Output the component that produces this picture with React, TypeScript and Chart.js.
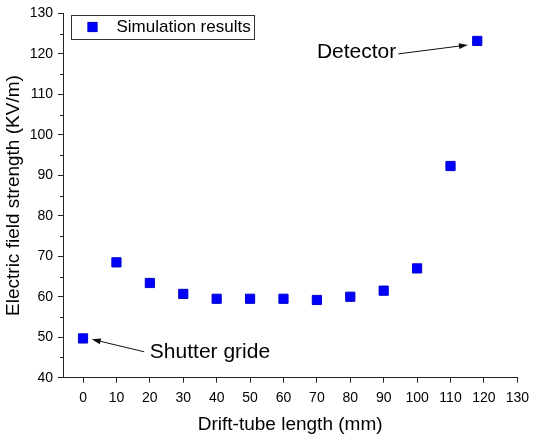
import React, { useEffect, useRef } from 'react';
import { Chart, registerables } from 'chart.js';

Chart.register(...registerables);

const xValues = [0, 10, 20, 30, 40, 50, 60, 70, 80, 90, 100, 110, 118];
const yValues = [49.7, 68.5, 63.4, 60.7, 59.5, 59.5, 59.5, 59.2, 60.0, 61.5, 67.0, 92.3, 123.2];
const xTicks = [0, 10, 20, 30, 40, 50, 60, 70, 80, 90, 100, 110, 120, 130];
const yMajorTicks = [40, 50, 60, 70, 80, 90, 100, 110, 120, 130];
const yMinorTicks = [45, 55, 65, 75, 85, 95, 105, 115, 125];
const seriesLabel = 'Simulation results';
const xTitle = 'Drift-tube length (mm)';
const yTitle = 'Electric field strength (KV/m)';

const annotationTexts = ['Detector', 'Shutter gride'];
const annotationTextAt = [[70, 120.3], [20, 46.2]];
const annotationArrowFrom = [[94.4, 120.0], [18.3, 46.4]];
const annotationArrowTo = [[115.2, 122.2], [2.6, 49.5]];

const FONT = '"Liberation Sans", Arial, sans-serif';
const AXIS_COLOR = '#222';
const POINT_FILL = '#0000ff';
const POINT_BORDER = '#0000cc';

const extrasPlugin = {
  id: 'extras',
  afterDraw(chart: any) {
    const ctx = chart.ctx;
    const xs = chart.scales.x;
    const ys = chart.scales.y;
    const area = chart.chartArea;
    ctx.save();

    // minor ticks on y axis
    ctx.strokeStyle = AXIS_COLOR;
    ctx.lineWidth = 1;
    yMinorTicks.forEach((v) => {
      const py = Math.round(ys.getPixelForValue(v)) + 0.5;
      ctx.beginPath();
      ctx.moveTo(area.left, py);
      ctx.lineTo(area.left - 3, py);
      ctx.stroke();
    });

    // annotations
    ctx.fillStyle = '#000';
    ctx.strokeStyle = '#111';
    ctx.font = `21px ${FONT}`;
    ctx.textBaseline = 'middle';
    ctx.textAlign = 'left';
    annotationTexts.forEach((t, i) => {
      const tx = xs.getPixelForValue(annotationTextAt[i][0]);
      const ty = ys.getPixelForValue(annotationTextAt[i][1]);
      ctx.fillText(t, tx, ty);
      const fx = xs.getPixelForValue(annotationArrowFrom[i][0]);
      const fy = ys.getPixelForValue(annotationArrowFrom[i][1]);
      const ex = xs.getPixelForValue(annotationArrowTo[i][0]);
      const ey = ys.getPixelForValue(annotationArrowTo[i][1]);
      const ang = Math.atan2(ey - fy, ex - fx);
      const hl = 9;
      const hw = 3;
      ctx.lineWidth = 1;
      ctx.beginPath();
      ctx.moveTo(fx, fy);
      ctx.lineTo(ex - Math.cos(ang) * hl * 0.8, ey - Math.sin(ang) * hl * 0.8);
      ctx.stroke();
      ctx.beginPath();
      ctx.moveTo(ex, ey);
      ctx.lineTo(ex - Math.cos(ang) * hl - Math.sin(ang) * hw, ey - Math.sin(ang) * hl + Math.cos(ang) * hw);
      ctx.lineTo(ex - Math.cos(ang) * hl + Math.sin(ang) * hw, ey - Math.sin(ang) * hl - Math.cos(ang) * hw);
      ctx.closePath();
      ctx.fillStyle = '#111';
      ctx.fill();
      ctx.fillStyle = '#000';
    });

    // legend box
    const lx = area.left + 8.5;
    const ly = 15.5;
    const lw = 183;
    const lh = 24;
    ctx.fillStyle = '#fff';
    ctx.fillRect(lx, ly, lw, lh);
    ctx.strokeStyle = '#333';
    ctx.lineWidth = 1;
    ctx.strokeRect(lx, ly, lw, lh);
    const mx = lx + 21;
    const my = ly + 11.5;
    const half = 4.6;
    ctx.fillStyle = POINT_FILL;
    ctx.fillRect(mx - half, my - half, half * 2, half * 2);
    ctx.strokeStyle = POINT_BORDER;
    ctx.strokeRect(mx - half, my - half, half * 2, half * 2);
    ctx.fillStyle = '#000';
    ctx.font = `17px ${FONT}`;
    ctx.textBaseline = 'middle';
    ctx.fillText(chart.data.datasets[0].label, lx + 45, my + 0.5);

    ctx.restore();
  },
};

export default function App() {
  const ref = useRef<HTMLCanvasElement>(null);

  useEffect(() => {
    if (!ref.current) return;
    const chart = new Chart(ref.current, {
      type: 'scatter',
      data: {
        datasets: [
          {
            label: seriesLabel,
            data: xValues.map((x, i) => ({ x, y: yValues[i] })),
            pointStyle: 'rect',
            pointRadius: 6.5,
            pointHoverRadius: 6.5,
            backgroundColor: POINT_FILL,
            borderColor: POINT_BORDER,
            borderWidth: 1,
            showLine: false,
          },
        ],
      },
      options: {
        responsive: false,
        animation: false,
        devicePixelRatio: 1,
        layout: { padding: { left: 0, top: 12, right: 16.5, bottom: 0 } },
        plugins: {
          legend: { display: false },
          tooltip: { enabled: false },
        },
        scales: {
          x: {
            type: 'linear',
            min: -6,
            max: 130,
            afterBuildTicks: (s: any) => {
              s.ticks = xTicks.map((v) => ({ value: v }));
            },
            afterFit: (s: any) => {
              s.height = 60.3;
            },
            ticks: {
              color: '#000',
              font: { family: FONT, size: 14 },
              padding: 7,
              maxRotation: 0,
              autoSkip: false,
            },
            grid: {
              drawOnChartArea: false,
              drawTicks: true,
              tickLength: 5,
              color: AXIS_COLOR,
              lineWidth: 1,
            },
            border: { display: true, color: AXIS_COLOR, width: 1 },
            title: {
              display: true,
              text: xTitle,
              color: '#000',
              font: { family: FONT, size: 19 },
              padding: { top: 0, bottom: 1.6 },
            },
          },
          y: {
            type: 'linear',
            min: 40,
            max: 130,
            afterBuildTicks: (s: any) => {
              s.ticks = yMajorTicks.map((v) => ({ value: v }));
            },
            afterFit: (s: any) => {
              s.width = 63;
            },
            ticks: {
              color: '#000',
              font: { family: FONT, size: 14 },
              padding: 5,
              autoSkip: false,
            },
            grid: {
              drawOnChartArea: false,
              drawTicks: true,
              tickLength: 5,
              color: AXIS_COLOR,
              lineWidth: 1,
            },
            border: { display: true, color: AXIS_COLOR, width: 1 },
            title: {
              display: true,
              text: yTitle,
              color: '#000',
              font: { family: FONT, size: 19 },
              padding: { top: 2, bottom: 0 },
            },
          },
        },
      },
      plugins: [extrasPlugin],
    });
    return () => chart.destroy();
  }, []);

  return (
    <div style={{ position: 'fixed', left: 0, top: 0, width: 536, height: 438, background: '#fff' }}>
      <canvas ref={ref} width={536} height={438} style={{ display: 'block' }} />
    </div>
  );
}
